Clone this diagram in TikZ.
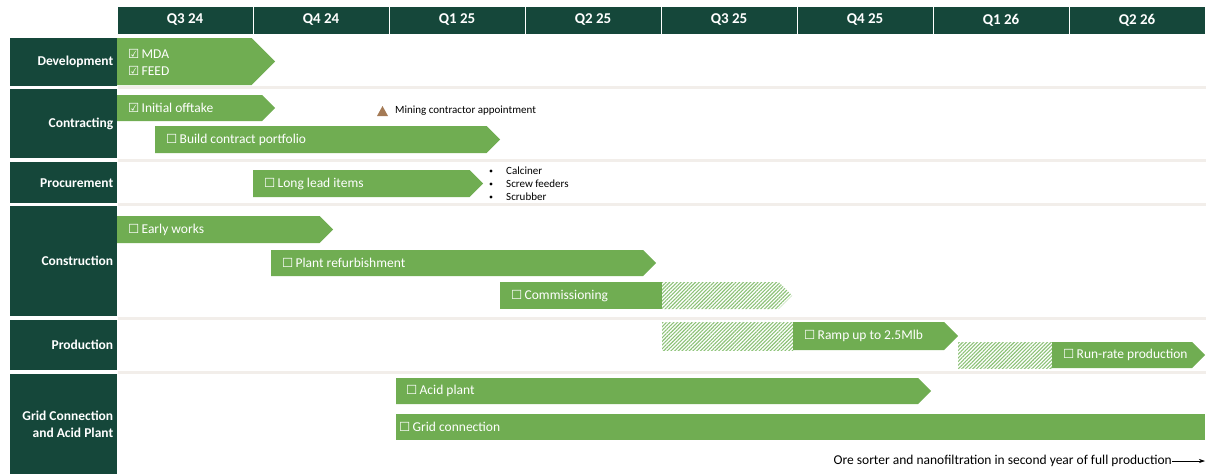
\documentclass[tikz,border=0pt]{standalone}
\usepackage{fontspec}
\setmainfont{Carlito}
\newfontfamily\symfont{DejaVu Sans}
\usetikzlibrary{patterns.meta,arrows.meta}
\definecolor{dkg}{HTML}{15473A}
\definecolor{barg}{HTML}{70AD52}
\definecolor{hatchg}{HTML}{8CC277}
\definecolor{sepc}{HTML}{F2EEEA}
\definecolor{trib}{HTML}{A47A55}
\newcommand{\ub}{{\fontsize{12.5}{12}\symfont ☐}}
\newcommand{\cb}{{\fontsize{12.5}{12}\symfont ☑}}
% chevron bar: x1, xtip, y1, y2
\newcommand{\gchev}[4]{\fill[barg] (#1,#3) -- ({#2-(#4-#3)/2},#3) -- (#2,{(#3+#4)/2}) -- ({#2-(#4-#3)/2},#4) -- (#1,#4) -- cycle;}
\newcommand{\hchev}[4]{\fill[white] (#1,#3) -- ({#2-(#4-#3)/2},#3) -- (#2,{(#3+#4)/2}) -- ({#2-(#4-#3)/2},#4) -- (#1,#4) -- cycle;
 \path[pattern={Lines[angle=45,distance=2.6pt,line width=1.1pt]},pattern color=hatchg] (#1,#3) -- ({#2-(#4-#3)/2},#3) -- (#2,{(#3+#4)/2}) -- ({#2-(#4-#3)/2},#4) -- (#1,#4) -- cycle;}
\newcommand{\hrect}[4]{\fill[white] (#1,#3) rectangle (#2,#4);
 \path[pattern={Lines[angle=45,distance=2.6pt,line width=1.1pt]},pattern color=hatchg] (#1,#3) rectangle (#2,#4);}
\tikzset{
  hdr/.style={fill=dkg, draw=white, line width=0.8pt, text=white, font=\fontsize{15}{17}\selectfont\bfseries, minimum width=136pt, minimum height=28pt, inner sep=0pt},
  rowlab/.style={fill=dkg, text=white, font=\fontsize{13.5}{16.5}\selectfont\bfseries, text width=99pt, inner xsep=4pt, inner ysep=0pt, align=flush right, anchor=north west},
  bartxt/.style={text=white, font=\fontsize{13.5}{16}\selectfont, anchor=west, inner sep=0pt, align=flush left},
  small/.style={font=\fontsize{11}{12}\selectfont, anchor=west, inner sep=0pt},
  sepline/.style={draw=sepc, line width=3pt},
}
\begin{document}
\begin{tikzpicture}[x=1pt,y=-1pt]
\useasboundingbox (0,0) rectangle (1206,474);
% header
\foreach \q [count=\i] in {Q3 24,Q4 24,Q1 25,Q2 25,Q3 25,Q4 25,Q1 26,Q2 26}
  \node[hdr] (h\i) at ({117+136*(\i-1)+68},20) {\q};
% row labels
\node[rowlab, minimum height=48pt] (r1) at (10,38) {Development};
\node[rowlab, minimum height=69pt] (r2) at (10,89) {Contracting};
\node[rowlab, minimum height=41pt] (r3) at (10,162) {Procurement};
\node[rowlab, minimum height=110pt] (r4) at (10,206) {Construction};
\node[rowlab, minimum height=50pt] (r5) at (10,320) {Production};
\node[rowlab, minimum height=100pt] (r6) at (10,374) {Grid Connection\\and Acid Plant};
% separators
\foreach \y in {87.5,160,204.5,318,372}
  \draw[sepline] (118,\y) -- (1206,\y);
% bars
\gchev{117}{275}{38}{85}
\node[bartxt, font=\fontsize{13.5}{17}\selectfont] (b1) at (128,62) {\cb\,MDA\\\cb\,FEED};
\gchev{117}{275}{95}{121}
\node[bartxt] (b2) at (128,108) {\cb\,Initial offtake};
\gchev{155}{500}{126}{153}
\node[bartxt] (b3) at (166,140) {\ub\,Build contract portfolio};
\gchev{253}{483}{170}{197}
\node[bartxt] (b4) at (264,184) {\ub\,Long lead items};
\gchev{117}{333}{216}{243}
\node[bartxt] (b5) at (128,230) {\ub\,Early works};
\gchev{271}{656}{250}{276}
\node[bartxt] (b6) at (282,263) {\ub\,Plant refurbishment};
\fill[barg] (500,282) rectangle (662,309);
\hchev{662}{792}{282}{309}
\node[bartxt] (b7) at (511,296) {\ub\,Commissioning};
\hrect{662}{793}{322}{350}
\gchev{793}{958}{322}{350}
\node[bartxt] (b8) at (804,336) {\ub\,Ramp up to 2.5Mlb};
\hrect{958}{1052}{342}{368}
\gchev{1052}{1205}{342}{368}
\node[bartxt] (b9) at (1063,355) {\ub\,Run-rate production};
\gchev{396}{931}{378}{404}
\node[bartxt] (b10) at (406,391) {\ub\,Acid plant};
\fill[barg] (396,414) rectangle (1205,440);
\node[bartxt] (b11) at (399,427) {\ub\,Grid connection};
% milestone
\fill[trib] (377,116) -- (388,116) -- (382.5,106) -- cycle;
\node[small] (m1) at (395,110.5) {Mining contractor appointment};
% bullets
\foreach \t/\y [count=\i] in {Calciner/171,Screw feeders/184,Scrubber/197}{
  \fill (491,\y) circle (1.6pt);
  \node[small] (p\i) at (506,\y) {\t};
}
% footnote
\node[font=\fontsize{13.5}{15}\selectfont, anchor=east, inner sep=0pt] (fn) at (1172,461) {Ore sorter and nanofiltration in second year of full production};
\coordinate (fe) at (1205,461);
\draw[line width=0.6pt, -{Stealth[length=6pt,width=4pt]}] (fn.east) -- (fe);
\end{tikzpicture}
\end{document}
